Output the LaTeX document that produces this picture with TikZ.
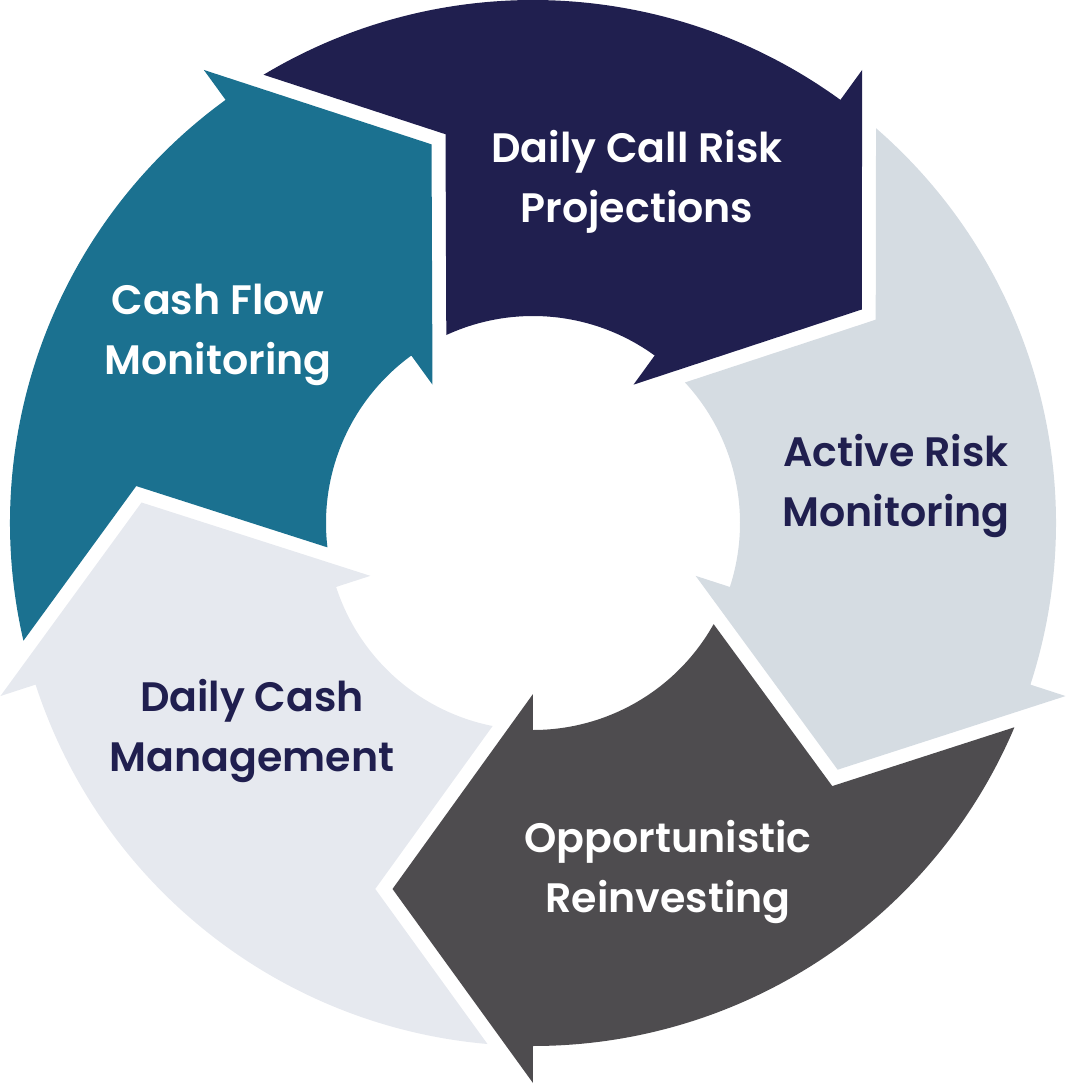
\documentclass[tikz,border=0pt]{standalone}
\usepackage{fontspec}
\setmainfont{Poppins}[BoldFont={Poppins SemiBold}]
\definecolor{cNavy}{HTML}{201F4F}
\definecolor{cTeal}{HTML}{1B7190}
\definecolor{cGrayBlue}{HTML}{D5DCE2}
\definecolor{cDark}{HTML}{4E4C4F}
\definecolor{cPale}{HTML}{E6E9EF}
\tikzset{
  lbl/.style={align=center, font=\bfseries\fontsize{11.7}{17}\selectfont, inner sep=0pt},
}
\newcommand\ringseg[2]{%
  \fill[#2, rotate=#1] (67.01:5.23) arc[start angle=67.01, end angle=0, radius=5.23]
    -- (0:5.60) -- (-21:3.92) -- (0:1.71) -- (0:2.07)
    arc[start angle=0, end angle=60.76, radius=2.07] -- (48.68:3.985) -- cycle;}
\begin{document}
\begin{tikzpicture}
\useasboundingbox (-5.33,-5.62) rectangle (5.33,5.23);
\ringseg{54}{cNavy}
\ringseg{-18}{cGrayBlue}
\ringseg{-90}{cDark}
\ringseg{-162}{cPale}
\ringseg{126}{cTeal}
\node[lbl, text=white] (projections) at (1.04,3.41) {Daily Call Risk\\Projections};
\node[lbl, text=cNavy] (active) at (3.63,0.37) {Active Risk\\Monitoring};
\node[lbl, text=white] (reinvest) at (1.35,-3.49) {Opportunistic\\Reinvesting};
\node[lbl, text=cNavy] (cashmgmt) at (-2.81,-2.08) {Daily Cash\\Management};
\node[lbl, text=white] (cashflow) at (-3.15,1.88) {Cash Flow\\Monitoring};
\end{tikzpicture}
\end{document}
